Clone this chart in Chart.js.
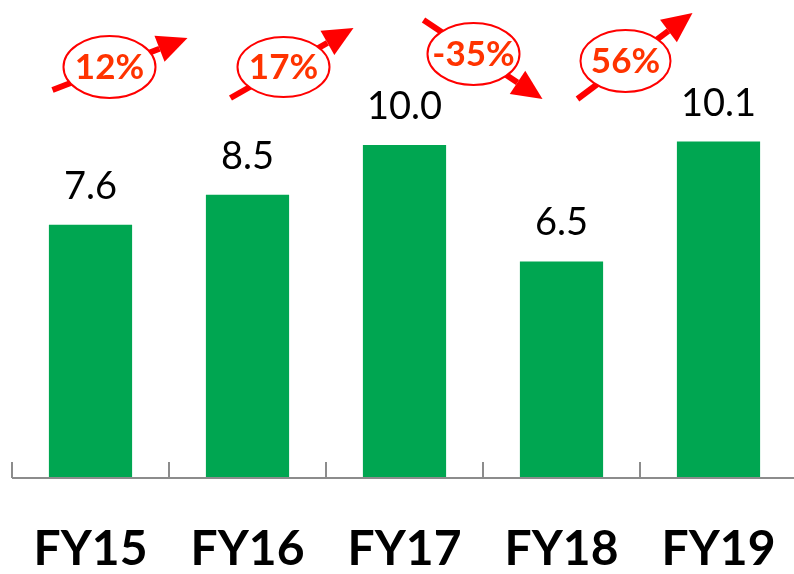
<!DOCTYPE html>
<html><head><meta charset="utf-8">
<script src="https://cdn.jsdelivr.net/npm/chart.js@4.4.1/dist/chart.umd.min.js"></script>
<style>html,body{margin:0;padding:0;background:#fff;overflow:hidden}#wrap{width:794px;height:574px;overflow:hidden}</style>
</head><body><div id="wrap"><canvas id="c" width="800" height="574"></canvas></div>
<script>
const categories = ["FY15", "FY16", "FY17", "FY18", "FY19"];
const values = [7.6, 8.5, 10.0, 6.5, 10.1];
const valueLabels = ["7.6", "8.5", "10.0", "6.5", "10.1"];
const changes = ["12%", "17%", "-35%", "56%"];

// annotation styling: ellipse center offset from left category, arrow start/tip relative to ellipse center
const annStyle = [
  {dx: 19, cy: 67, rx: 46, ry: 31, s: [-57, 23], t: [78, -29]},
  {dx: 36, cy: 67, rx: 46, ry: 30, s: [-53, 31], t: [70, -39]},
  {dx: 69, cy: 54, rx: 46, ry: 31, s: [-50, -34], t: [69, 45]},
  {dx: 64, cy: 61, rx: 45, ry: 31, s: [-48, 38], t: [67, -48]}
];

function arrow(ctx, x1, y1, x2, y2) {
  const ang = Math.atan2(y2 - y1, x2 - x1);
  const hl = 30, hw = 14;
  const bx = x2 - hl * Math.cos(ang), by = y2 - hl * Math.sin(ang);
  ctx.strokeStyle = '#FF0000'; ctx.lineWidth = 6; ctx.lineCap = 'butt';
  ctx.beginPath(); ctx.moveTo(x1, y1); ctx.lineTo(bx, by); ctx.stroke();
  ctx.fillStyle = '#FF0000';
  ctx.beginPath();
  ctx.moveTo(x2, y2);
  ctx.lineTo(bx + hw * Math.sin(ang), by - hw * Math.cos(ang));
  ctx.lineTo(bx - hw * Math.sin(ang), by + hw * Math.cos(ang));
  ctx.closePath(); ctx.fill();
}

const deco = {
  id: 'deco',
  afterDraw(chart) {
    const ctx = chart.ctx, xs = chart.scales.x, area = chart.chartArea;
    ctx.save();
    // axis line and upward ticks
    ctx.strokeStyle = '#8C8C8C'; ctx.lineWidth = 2;
    ctx.beginPath(); ctx.moveTo(area.left, area.bottom); ctx.lineTo(area.right, area.bottom); ctx.stroke();
    const step = xs.getPixelForValue(1) - xs.getPixelForValue(0);
    for (let i = 0; i < categories.length; i++) {
      const x = Math.round(xs.getPixelForValue(i) - step / 2);
      ctx.beginPath(); ctx.moveTo(x, area.bottom); ctx.lineTo(x, area.bottom - 16); ctx.stroke();
    }
    // value labels
    const meta = chart.getDatasetMeta(0);
    ctx.fillStyle = '#000'; ctx.font = '38px Lato'; ctx.textAlign = 'center'; ctx.textBaseline = 'alphabetic';
    meta.data.forEach((b, i) => { ctx.fillText(valueLabels[i], b.x, b.y - 26); });
    // category labels
    ctx.font = 'bold 48px Lato'; ctx.textBaseline = 'middle';
    categories.forEach((c, i) => { ctx.fillText(c, xs.getPixelForValue(i), 550); });
    // change annotations
    changes.forEach((txt, i) => {
      const a = annStyle[i];
      const cx = xs.getPixelForValue(i) + a.dx, cy = a.cy;
      arrow(ctx, cx + a.s[0], cy + a.s[1], cx + a.t[0], cy + a.t[1]);
      ctx.beginPath(); ctx.ellipse(cx, cy, a.rx, a.ry, 0, 0, Math.PI * 2);
      ctx.fillStyle = '#fff'; ctx.fill();
      ctx.strokeStyle = '#FF0000'; ctx.lineWidth = 2; ctx.stroke();
      ctx.fillStyle = '#FF3300'; ctx.font = 'bold 35px Lato'; ctx.textBaseline = 'middle';
      ctx.fillText(txt, cx, cy + 1);
    });
    ctx.restore();
  }
};

new Chart(document.getElementById('c'), {
  type: 'bar',
  data: { labels: categories, datasets: [{ data: values, backgroundColor: '#00A651', borderWidth: 0,
    barPercentage: 0.53, categoryPercentage: 1 }] },
  options: {
    responsive: false, animation: false,
    layout: { padding: { left: 12, right: 3, top: 0, bottom: 96 } },
    plugins: { legend: { display: false }, tooltip: { enabled: false } },
    scales: {
      x: { display: false },
      y: { display: false, min: 0, max: 14.35 }
    }
  },
  plugins: [deco]
});
</script></body></html>
